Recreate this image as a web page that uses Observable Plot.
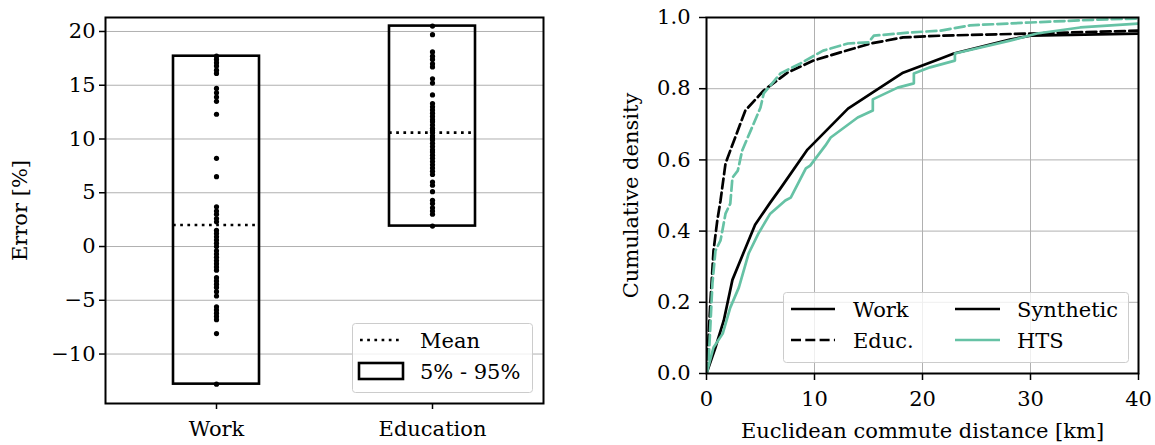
<!DOCTYPE html>
<html>
<head>
<meta charset="utf-8">
<script src="https://cdn.jsdelivr.net/npm/d3@7"></script>
<script src="https://cdn.jsdelivr.net/npm/@observablehq/plot@0.6"></script>
<style>
  html, body { margin: 0; padding: 0; background: white; }
  #wrap { position: relative; width: 1155px; height: 445px; font-family: "DejaVu Serif", serif; }
  #left, #right, .legend { position: absolute; top: 0; }
  #left { left: 0; }
  #right { left: 560px; }
  .legend { pointer-events: none; }
  .legend text { font-family: "DejaVu Serif", serif; font-size: 21px; fill: black; }
</style>
</head>
<body>
<div id="wrap">
  <div id="left"></div>
  <div id="right"></div>
</div>
<script>
// ---------- Left panel data ----------
const categories = ["Work", "Education"];
const workErrors = [17.7, 17.4, 17.1, 16.8, 16.4, 16.1, 14.7, 14.3, 13.9, 13.5, 12.3, 8.2, 6.5,
  3.7, 3.3, 3.0, 2.6, 2.3, 1.5, 1.2, 0.9, 0.6, 0.3, 0.0, -0.4, -0.7, -1.0, -1.3, -1.6, -1.9, -2.2,
  -2.9, -3.2, -3.5, -3.8, -4.2, -4.6, -5.6, -5.9, -6.2, -6.5, -6.8, -8.1, -12.8];
const educErrors = [20.5, 19.7, 18.1, 17.7, 17.4, 17.0, 16.7, 15.6, 15.2, 14.1,
  13.3, 13.0, 12.7, 12.4, 12.1, 11.8, 11.6, 11.3, 11.0, 10.8, 10.6, 10.3, 10.1, 9.9, 9.6, 9.3,
  9.0, 8.8, 8.5, 8.2, 7.9, 7.6, 7.3, 7.0, 6.7, 6.0, 5.7, 5.1, 4.3, 4.0, 3.6, 3.3, 3.0, 1.9];
const means = [2.0, 10.6];
const p5 = [-12.8, 1.9];
const p95 = [17.7, 20.5];
const leftYTicks = [-10, -5, 0, 5, 10, 15, 20];

// ---------- Right panel data ----------
const workSynDist = [0, 0.83, 1.6, 2.4, 3.4, 4.5, 5.9, 6.85, 9.35, 13.1, 15.4, 18.2, 21.7, 22.9, 28.1, 30, 40];
const workSynCdf  = [0, 0.073, 0.149, 0.263, 0.337, 0.418, 0.48, 0.52, 0.629, 0.744, 0.79, 0.845, 0.885, 0.899, 0.938, 0.949, 0.955];
const workHtsDist = [0, 0.65, 1.5, 2.2, 3.0, 3.9, 4.8, 5.9, 7.3, 7.8, 9.2, 9.6, 11, 11.5, 14, 15.4, 15.4, 17.7, 19.2, 19.2, 20.7, 23, 23, 28.1, 30.6, 34.6, 40];
const workHtsCdf  = [0, 0.073, 0.112, 0.185, 0.242, 0.337, 0.393, 0.449, 0.486, 0.494, 0.576, 0.584, 0.64, 0.663, 0.719, 0.739, 0.77, 0.803, 0.815, 0.843, 0.86, 0.879, 0.899, 0.935, 0.955, 0.972, 0.983];
const educSynDist = [0, 0.37, 0.65, 1.0, 1.3, 1.76, 2.2, 3.6, 5.3, 7.5, 9.9, 12.4, 15.2, 18.2, 21.7, 30, 40];
const educSynCdf  = [0, 0.205, 0.345, 0.43, 0.486, 0.59, 0.626, 0.739, 0.795, 0.845, 0.879, 0.902, 0.927, 0.944, 0.949, 0.955, 0.963];
const educHtsDist = [0, 0.2, 0.55, 0.83, 1.3, 1.76, 2.2, 2.4, 2.9, 3.3, 4.1, 5.0, 5.3, 6.85, 8.7, 10.8, 13.1, 15.0, 15.5, 18.9, 21.7, 24.4, 30, 36.2, 40];
const educHtsCdf  = [0, 0.037, 0.253, 0.345, 0.374, 0.449, 0.477, 0.55, 0.57, 0.626, 0.683, 0.747, 0.787, 0.843, 0.871, 0.907, 0.927, 0.93, 0.949, 0.958, 0.963, 0.978, 0.986, 0.994, 0.997];
const rightXTicks = [0, 10, 20, 30, 40];
const rightYTicks = [0, 0.2, 0.4, 0.6, 0.8, 1.0];

const GREEN = "#66c2a5";
const GRID = "#b0b0b0";
const DASH = "10,4.3";
const DOT = "2.7,4.5";
const LW = 2.7;
const FONT = {fontFamily: "DejaVu Serif, serif", fontSize: "21px", color: "black", background: "white", overflow: "visible"};

// build tables
const boxes = categories.map((c, i) => ({cat: c, lo: p5[i], hi: p95[i], mean: means[i]}));
const points = [
  ...workErrors.map(v => ({cat: categories[0], v})),
  ...educErrors.map(v => ({cat: categories[1], v}))
];
const toRows = (xs, ys) => xs.map((d, i) => ({d, F: ys[i]}));

const left = Plot.plot({
  width: 560, height: 445,
  marginLeft: 105, marginRight: 17, marginTop: 17, marginBottom: 42,
  style: FONT,
  x: {type: "band", domain: categories, paddingInner: 0.6, paddingOuter: 0.31},
  y: {domain: [-14.6, 21.3]},
  marks: [
    Plot.gridY(leftYTicks, {stroke: GRID, strokeOpacity: 1, strokeWidth: 1}),
    Plot.barY(boxes, {x: "cat", y1: "lo", y2: "hi", fill: "none", stroke: "black", strokeWidth: 2.6}),
    Plot.tickY(boxes, {x: "cat", y: "mean", stroke: "black", strokeWidth: LW, strokeDasharray: DOT}),
    Plot.dot(points, {x: "cat", y: "v", r: 2.6, fill: "black", stroke: "none"}),
    Plot.frame({stroke: "black", strokeWidth: 2}),
    Plot.axisY(leftYTicks, {tickSize: 6, tickPadding: 4, strokeWidth: 1.5, label: "Error [%]", labelAnchor: "center", labelArrow: "none", labelOffset: 93}),
    Plot.axisX({tickSize: 6, tickPadding: 12, strokeWidth: 1.5, label: null})
  ]
});
document.getElementById("left").appendChild(left);

const right = Plot.plot({
  width: 595, height: 445,
  marginLeft: 146, marginRight: 17, marginTop: 17, marginBottom: 72,
  style: FONT,
  x: {domain: [0, 40]},
  y: {domain: [0, 1]},
  marks: [
    Plot.gridX(rightXTicks, {stroke: GRID, strokeOpacity: 1, strokeWidth: 1}),
    Plot.gridY(rightYTicks, {stroke: GRID, strokeOpacity: 1, strokeWidth: 1}),
    Plot.line(toRows(workSynDist, workSynCdf), {x: "d", y: "F", stroke: "black", strokeWidth: LW, clip: true}),
    Plot.line(toRows(educSynDist, educSynCdf), {x: "d", y: "F", stroke: "black", strokeWidth: LW, strokeDasharray: DASH, clip: true}),
    Plot.line(toRows(workHtsDist, workHtsCdf), {x: "d", y: "F", stroke: GREEN, strokeWidth: LW, clip: true}),
    Plot.line(toRows(educHtsDist, educHtsCdf), {x: "d", y: "F", stroke: GREEN, strokeWidth: LW, strokeDasharray: DASH, clip: true}),
    Plot.frame({stroke: "black", strokeWidth: 2}),
    Plot.axisX(rightXTicks, {tickSize: 7, tickPadding: 11, strokeWidth: 1.5, label: "Euclidean commute distance [km]", labelAnchor: "center", labelArrow: "none", labelOffset: 64}),
    Plot.axisY(rightYTicks, {tickSize: 7, tickPadding: 9, strokeWidth: 1.5, tickFormat: d3.format(".1f"), label: "Cumulative density", labelAnchor: "center", labelArrow: "none", labelOffset: 83})
  ]
});
document.getElementById("right").appendChild(right);

// ---------- Legends ----------
const NS = "http://www.w3.org/2000/svg";
function legendBox(x, y, w, h, items) {
  const svg = document.createElementNS(NS, "svg");
  svg.setAttribute("class", "legend");
  svg.setAttribute("width", w + 1); svg.setAttribute("height", h + 1);
  svg.style.left = x + "px"; svg.style.top = y + "px";
  const bg = document.createElementNS(NS, "rect");
  Object.entries({x: 0.5, y: 0.5, width: w, height: h, rx: 3, fill: "white", "fill-opacity": 0.8, stroke: "#cccccc", "stroke-width": 1}).forEach(([k, v]) => bg.setAttribute(k, v));
  svg.appendChild(bg);
  for (const it of items) {
    const el = document.createElementNS(NS, it.tag);
    Object.entries(it.attrs).forEach(([k, v]) => el.setAttribute(k, v));
    if (it.text) el.textContent = it.text;
    svg.appendChild(el);
  }
  document.getElementById("wrap").appendChild(svg);
}
const leftLegendLabels = ["Mean", "5% - 95%"];
legendBox(352, 323, 180, 69, [
  {tag: "line", attrs: {x1: 8, x2: 50, y1: 17, y2: 17, stroke: "black", "stroke-width": LW, "stroke-dasharray": DOT}},
  {tag: "text", attrs: {x: 68, y: 18, "dominant-baseline": "central"}, text: leftLegendLabels[0]},
  {tag: "rect", attrs: {x: 7, y: 40, width: 44, height: 16, fill: "none", stroke: "black", "stroke-width": 2.6}},
  {tag: "text", attrs: {x: 68, y: 49, "dominant-baseline": "central"}, text: leftLegendLabels[1]}
]);
const rightLegendLabels = ["Work", "Educ.", "Synthetic", "HTS"];
legendBox(783, 292, 345, 70, [
  {tag: "line", attrs: {x1: 8, x2: 52, y1: 17, y2: 17, stroke: "black", "stroke-width": LW}},
  {tag: "text", attrs: {x: 70, y: 18, "dominant-baseline": "central"}, text: rightLegendLabels[0]},
  {tag: "line", attrs: {x1: 8, x2: 52, y1: 48, y2: 48, stroke: "black", "stroke-width": LW, "stroke-dasharray": DASH}},
  {tag: "text", attrs: {x: 70, y: 49, "dominant-baseline": "central"}, text: rightLegendLabels[1]},
  {tag: "line", attrs: {x1: 172, x2: 217, y1: 17, y2: 17, stroke: "black", "stroke-width": LW}},
  {tag: "text", attrs: {x: 234, y: 18, "dominant-baseline": "central"}, text: rightLegendLabels[2]},
  {tag: "line", attrs: {x1: 172, x2: 217, y1: 48, y2: 48, stroke: GREEN, "stroke-width": LW}},
  {tag: "text", attrs: {x: 234, y: 49, "dominant-baseline": "central"}, text: rightLegendLabels[3]}
]);
</script>
</body>
</html>
